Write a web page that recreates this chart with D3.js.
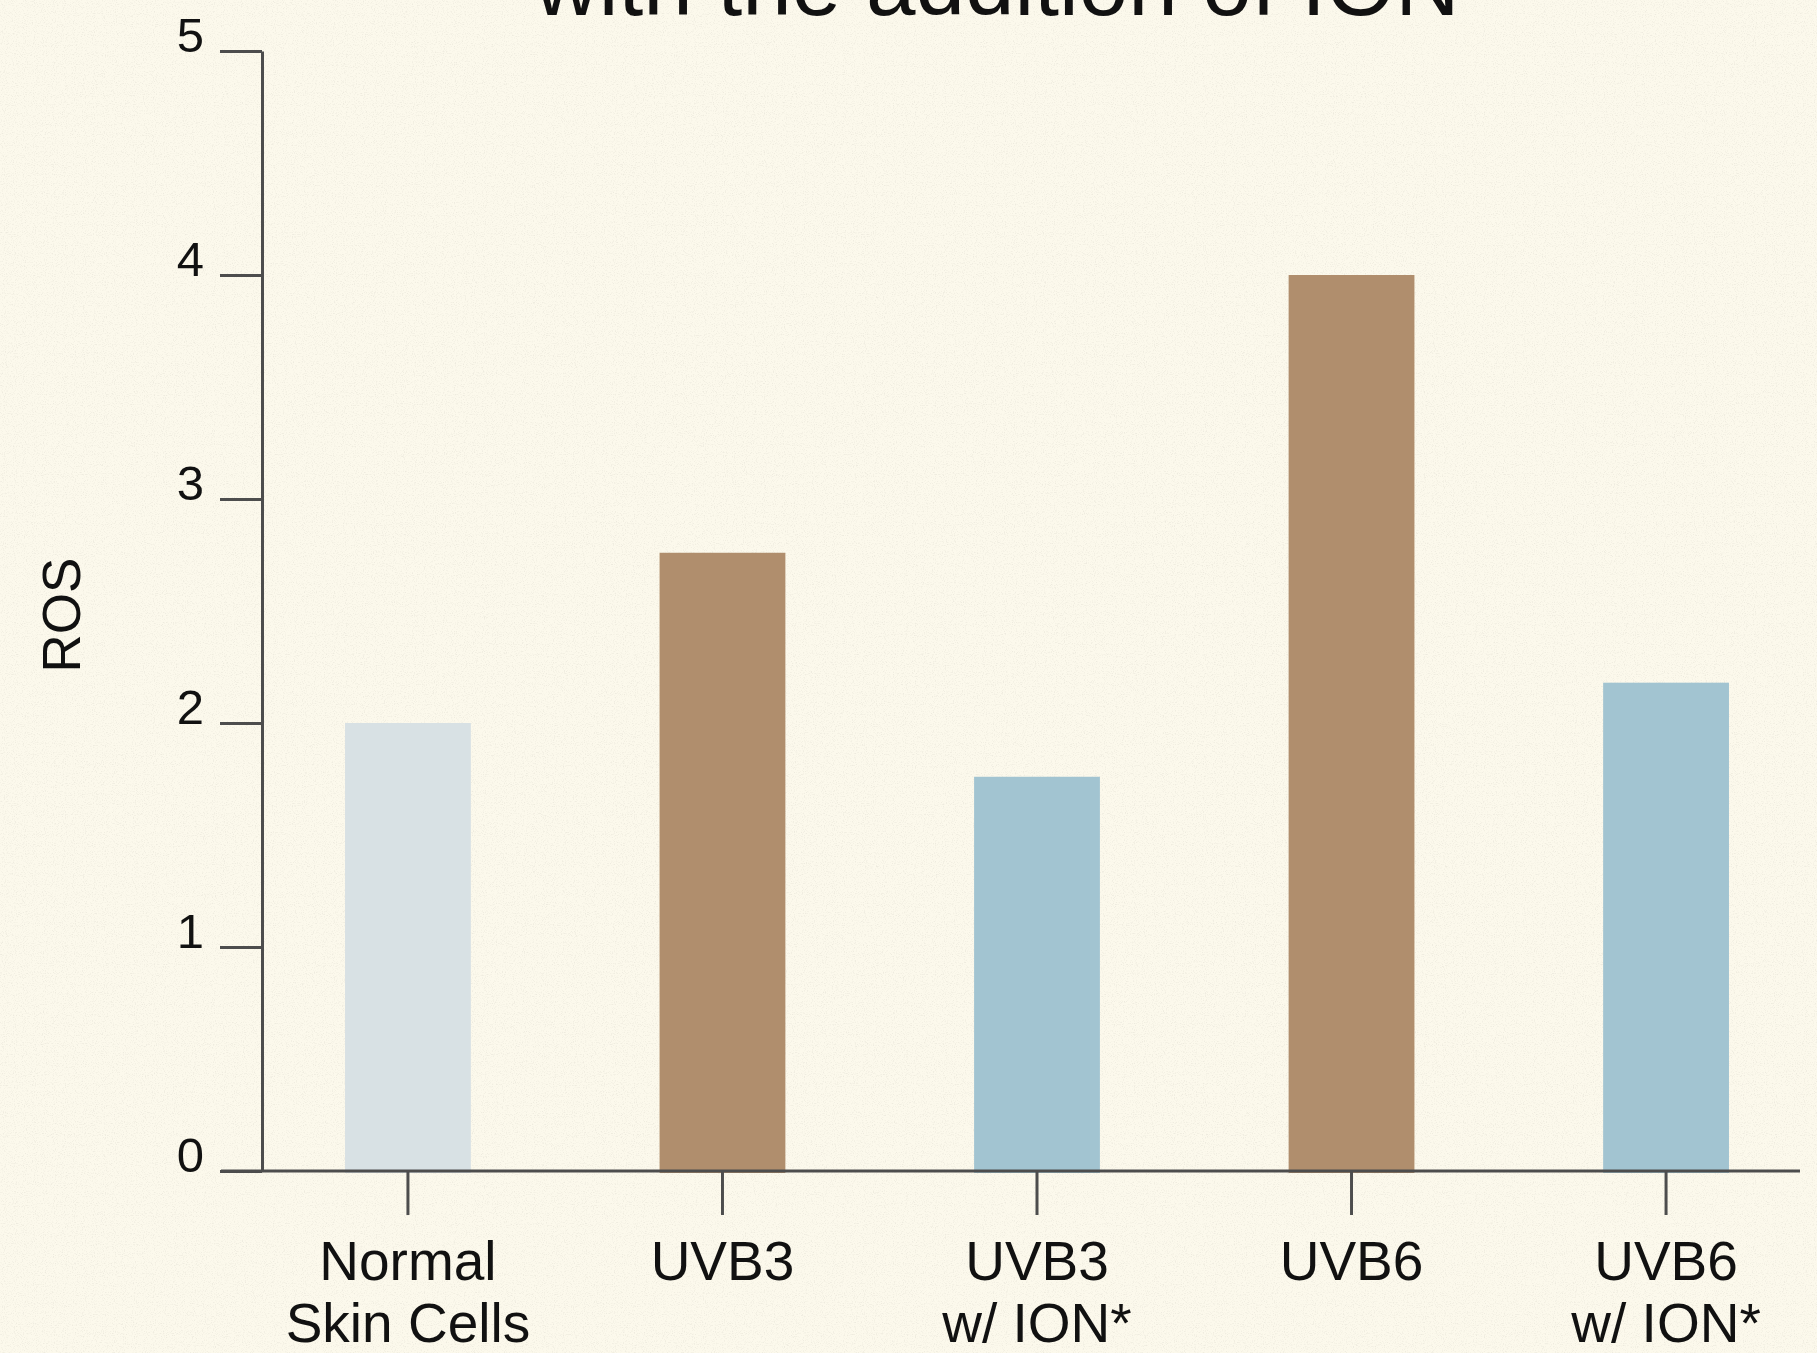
<!DOCTYPE html>
<html>
<head>
<meta charset="utf-8">
<script src="https://cdn.jsdelivr.net/npm/d3@7"></script>
<style>
  html, body { margin: 0; padding: 0; background: #fcf9ec; }
  svg { display: block; font-family: "Liberation Sans", Arial, sans-serif; }
</style>
</head>
<body>
<svg id="chart" width="1817" height="1353"></svg>
<script>
// data
const categories = ['Normal|Skin Cells', 'UVB3', 'UVB3|w/ ION*', 'UVB6', 'UVB6|w/ ION*'];
const rosValues = [2.0, 2.76, 1.76, 4.0, 2.18];
const barGroups = ['normal', 'uvb', 'ion', 'uvb', 'ion'];
const yTicks = [0, 1, 2, 3, 4, 5];
const titleText = 'with the addition of ION';

const colours = { normal: '#d8e1e4', uvb: '#b08e6d', ion: '#a2c4d1' };

const width = 1817, height = 1353;
const axisLeftX = 262, plotTop = 51, plotBottom = 1171, axisRightX = 1800;
const tickLen = 42;

const svg = d3.select('#chart');

// paper texture
const defs = svg.append('defs');
const noise = defs.append('filter').attr('id', 'paper')
    .attr('x', 0).attr('y', 0).attr('width', '100%').attr('height', '100%');
noise.append('feTurbulence')
    .attr('type', 'fractalNoise')
    .attr('baseFrequency', 0.9)
    .attr('numOctaves', 2)
    .attr('seed', 7);
noise.append('feColorMatrix')
    .attr('type', 'matrix')
    .attr('values', '0 0 0 0 0.45  0 0 0 0 0.43  0 0 0 0 0.38  0 0 0 -3 1.5');

svg.append('rect')
    .attr('width', width).attr('height', height)
    .attr('fill', '#fcf9ec');
svg.append('rect')
    .attr('width', width).attr('height', height)
    .attr('filter', 'url(#paper)')
    .attr('opacity', 0.18);

const x = d3.scaleBand()
    .domain(categories)
    .range([axisLeftX, 1812])
    .paddingInner(0.6)
    .paddingOuter(0.264);

const y = d3.scaleLinear()
    .domain([0, 5])
    .range([plotBottom, plotTop]);

// bars
svg.append('g')
    .attr('id', 'barGroup')
    .selectAll('rect').data(rosValues)
    .join('rect')
    .attr('x', (d, i) => x(categories[i]))
    .attr('y', d => y(d))
    .attr('width', x.bandwidth())
    .attr('height', d => y(0) - y(d) + 2)
    .attr('fill', (d, i) => colours[barGroups[i]]);

// y axis
const yAxis = svg.append('g')
    .attr('transform', 'translate(' + axisLeftX + ',0)')
    .call(d3.axisLeft(y).tickValues(yTicks).tickFormat(d3.format('d'))
        .tickSize(tickLen).tickSizeOuter(0).tickPadding(16));
yAxis.selectAll('path, line').attr('stroke', '#4d4d4d').attr('stroke-width', 3);
yAxis.selectAll('text')
    .attr('dy', '0')
    .attr('font-size', 49)
    .attr('font-family', '"Liberation Sans", Arial, sans-serif')
    .attr('fill', '#111');

// x axis
const xAxis = svg.append('g')
    .attr('transform', 'translate(0,' + plotBottom + ')')
    .call(d3.axisBottom(x).tickSize(44).tickPadding(0));
xAxis.select('.domain').remove();
xAxis.selectAll('line').attr('stroke', '#4d4d4d').attr('stroke-width', 3);
xAxis.selectAll('text')
    .attr('font-size', 55)
    .attr('font-family', '"Liberation Sans", Arial, sans-serif')
    .attr('fill', '#111')
    .attr('y', 0).attr('dy', 0)
    .each(function (d) {
        const t = d3.select(this).text(null);
        d.split('|').forEach((line, k) => {
            t.append('tspan')
                .attr('x', 0)
                .attr('y', 109 + k * 62)
                .text(line);
        });
    });

svg.append('line')
    .attr('x1', axisLeftX - tickLen + 1).attr('x2', axisRightX)
    .attr('y1', plotBottom).attr('y2', plotBottom)
    .attr('stroke', '#4d4d4d').attr('stroke-width', 3);

// y label
svg.append('text')
    .attr('transform', 'translate(80,615) rotate(-90)')
    .attr('text-anchor', 'middle')
    .attr('font-size', 53)
    .attr('fill', '#111')
    .text('ROS');

// title, cropped at the top edge as in the source
svg.append('text')
    .attr('x', 997)
    .attr('y', 15)
    .attr('text-anchor', 'middle')
    .attr('font-size', 89)
    .attr('fill', '#111')
    .text(titleText);
</script>
</body>
</html>
